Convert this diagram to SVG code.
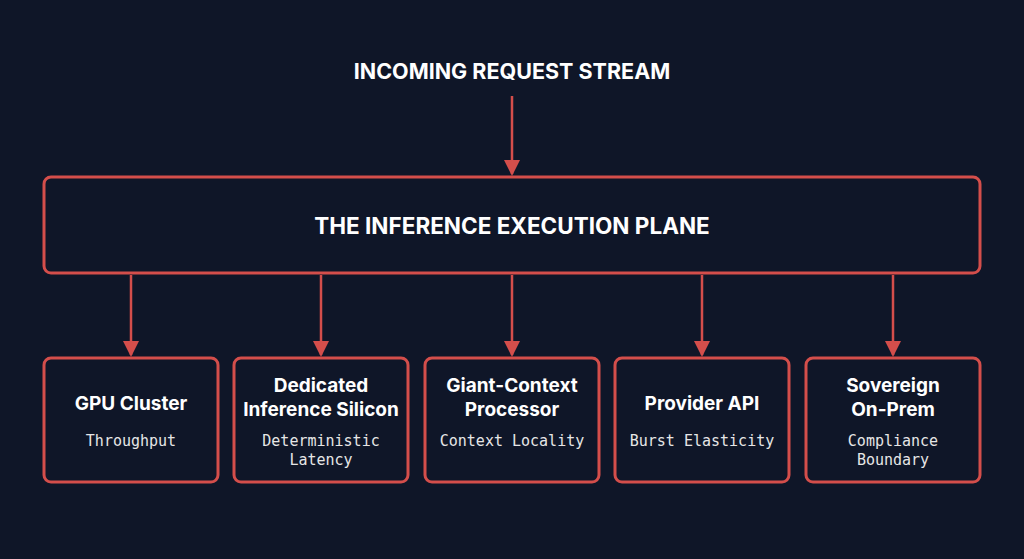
<svg xmlns="http://www.w3.org/2000/svg" width="1024" height="559" viewBox="0 0 1024 559">
<style>
.box{fill:#0f1628;stroke:#d44e4b;stroke-width:3}
.t{font-family:Inter,"Liberation Sans",sans-serif;font-weight:700;fill:#fff;text-anchor:middle}
.s{font-family:"DejaVu Sans Mono","Liberation Mono",monospace;font-size:15px;fill:#e6e6e6;text-anchor:middle}
.c{stroke:#d44e4b;stroke-width:2.5;fill:none;marker-end:url(#a)}
</style>
<defs><marker id="a" markerWidth="20" markerHeight="20" refX="14" refY="8" orient="auto" markerUnits="userSpaceOnUse" viewBox="0 0 20 16"><path d="M0,0L16,8L0,16z" fill="#d44e4b"/></marker></defs>
<rect width="1024" height="559" fill="#0f1628"/>
<g id="connectors">
<line class="c" x1="512" y1="96" x2="512" y2="174"/>
<line class="c" x1="131" y1="275" x2="131" y2="355"/>
<line class="c" x1="321" y1="275" x2="321" y2="355"/>
<line class="c" x1="512" y1="275" x2="512" y2="355"/>
<line class="c" x1="702" y1="275" x2="702" y2="355"/>
<line class="c" x1="893" y1="275" x2="893" y2="355"/>
</g>
<g id="stream"><text class="t" x="512" y="79" font-size="21.5">INCOMING REQUEST STREAM</text></g>
<g id="plane"><rect class="box" x="44" y="177" width="936" height="96" rx="7"/><text class="t" x="512" y="234" font-size="22.5">THE INFERENCE EXECUTION PLANE</text></g>
<g id="gpu"><rect class="box" x="44" y="358" width="174" height="124" rx="7"/><text class="t" x="131" y="410" font-size="19">GPU Cluster</text><text class="s" x="131" y="446">Throughput</text></g>
<g id="silicon"><rect class="box" x="234" y="358" width="174" height="124" rx="7"/><text class="t" x="321" y="392" font-size="19">Dedicated</text><text class="t" x="321" y="416" font-size="19">Inference Silicon</text><text class="s" x="321" y="446">Deterministic</text><text class="s" x="321" y="465">Latency</text></g>
<g id="giant"><rect class="box" x="425" y="358" width="174" height="124" rx="7"/><text class="t" x="512" y="392" font-size="19">Giant-Context</text><text class="t" x="512" y="416" font-size="19">Processor</text><text class="s" x="512" y="446">Context Locality</text></g>
<g id="provider"><rect class="box" x="615" y="358" width="174" height="124" rx="7"/><text class="t" x="702" y="410" font-size="19">Provider API</text><text class="s" x="702" y="446">Burst Elasticity</text></g>
<g id="sovereign"><rect class="box" x="806" y="358" width="174" height="124" rx="7"/><text class="t" x="893" y="392" font-size="19">Sovereign</text><text class="t" x="893" y="416" font-size="19">On-Prem</text><text class="s" x="893" y="446">Compliance</text><text class="s" x="893" y="465">Boundary</text></g>
</svg>
